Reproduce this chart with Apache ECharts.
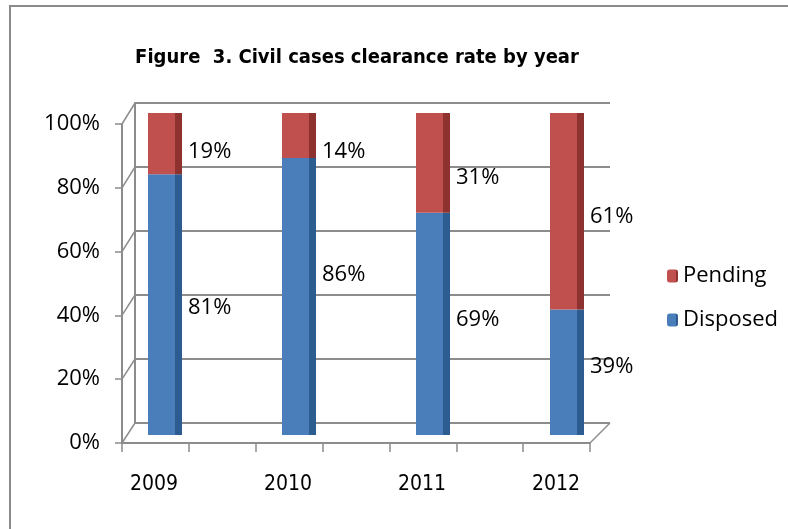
<!DOCTYPE html>
<html>
<head>
<meta charset="utf-8">
<script src="https://cdn.jsdelivr.net/npm/echarts@6/dist/echarts.min.js"></script>
<style>
  html, body { margin: 0; padding: 0; background: #fff; }
  #chart { width: 788px; height: 529px; }
</style>
</head>
<body>
<div id="chart"></div>
<script>
var years = ['2009', '2010', '2011', '2012'];
var disposed = [81, 86, 69, 39];
var pending = [19, 14, 31, 61];
var yTicks = [0, 20, 40, 60, 80, 100];

// vertical nudges of the value labels, as placed in the original
var disposedShift = [3, -22, -4, -5];
var pendingShift = [8, 16, 15, 6];

var font = "'Open Sans'";
var narrow = "'Liberation Sans Narrow', 'Arial Narrow', 'DejaVu Sans Condensed', sans-serif";
var gridColor = '#8c8c8c';

function face(light, dark) {
    return {
        type: 'linear', x: 0, y: 0, x2: 1, y2: 0,
        colorStops: [
            {offset: 0, color: light},
            {offset: 0.79, color: light},
            {offset: 0.79, color: dark},
            {offset: 1, color: dark}
        ]
    };
}

function withShift(vals, shift) {
    return vals.map(function (v, i) {
        return {value: v, label: {offset: [0, shift[i]]}};
    });
}

var labelStyle = {
    show: true,
    position: 'right',
    distance: 6,
    formatter: '{c}%',
    color: '#000',
    fontFamily: font,
    fontSize: 22
};

var option = {
    backgroundColor: '#fff',
    animation: false,
    title: {
        text: 'Figure  3. Civil cases clearance rate by year',
        left: 352,
        textAlign: 'center',
        top: 43,
        textStyle: {
            fontFamily: narrow,
            fontWeight: 'bold',
            fontSize: 20,
            color: '#000'
        }
    },
    legend: {
        orient: 'vertical',
        left: 662,
        top: 260,
        itemGap: 22,
        itemWidth: 11,
        itemHeight: 13,
        data: ['Pending', 'Disposed'],
        textStyle: {fontFamily: font, fontSize: 22, color: '#000'}
    },
    grid: [
        // front axis
        {left: 122, right: 198, top: 124, bottom: 86},
        // back wall
        {left: 135, right: 178, top: 103, bottom: 106},
        // bars
        {left: 98, right: 154, top: 113, bottom: 94}
    ],
    xAxis: [
        {
            gridIndex: 0, type: 'value', min: 0, max: 7, interval: 1,
            axisLine: {show: true, lineStyle: {color: gridColor, width: 2}},
            axisTick: {show: true, length: 9, lineStyle: {color: gridColor, width: 1.5}},
            axisLabel: {show: false},
            splitLine: {show: false}
        },
        {
            gridIndex: 1, type: 'value', min: 0, max: 1,
            axisLine: {show: false}, axisTick: {show: false},
            axisLabel: {show: false}, splitLine: {show: false}
        },
        {
            gridIndex: 2, type: 'category', data: years,
            axisLine: {show: false}, axisTick: {show: false},
            axisLabel: {
                margin: 39, color: '#000', fontFamily: narrow, fontSize: 21,
                padding: [0, 22, 0, 0]
            }
        }
    ],
    yAxis: [
        {
            gridIndex: 0, type: 'value', min: 0, max: 100, interval: 20,
            axisLine: {show: true, lineStyle: {color: gridColor, width: 2}},
            axisTick: {show: true, length: 7, lineStyle: {color: gridColor, width: 1.5}},
            axisLabel: {
                margin: 22, formatter: '{value}%', color: '#000',
                fontFamily: font, fontSize: 22
            },
            splitLine: {show: false}
        },
        {
            gridIndex: 1, type: 'value', min: 0, max: 100, interval: 20,
            axisLine: {show: true, lineStyle: {color: gridColor, width: 2}},
            axisTick: {show: false}, axisLabel: {show: false},
            splitLine: {show: true, lineStyle: {color: gridColor, width: 2}}
        },
        {
            gridIndex: 2, type: 'value', min: 0, max: 100, show: false
        }
    ],
    series: [
        {
            name: 'Disposed',
            type: 'bar',
            stack: 'rate',
            xAxisIndex: 2,
            yAxisIndex: 2,
            barWidth: 34,
            data: withShift(disposed, disposedShift),
            itemStyle: {color: face('#4a7ebb', '#2d5c90')},
            label: labelStyle
        },
        {
            name: 'Pending',
            type: 'bar',
            stack: 'rate',
            xAxisIndex: 2,
            yAxisIndex: 2,
            barWidth: 34,
            data: withShift(pending, pendingShift),
            itemStyle: {color: face('#c0504d', '#8e3230')},
            label: labelStyle
        }
    ]
};

var myChart = echarts.init(document.getElementById('chart'));
myChart.setOption(option);

// side wall / floor edges joining the front axis to the back wall
var xf0 = myChart.convertToPixel({xAxisIndex: 0}, 0);
var xf1 = myChart.convertToPixel({xAxisIndex: 0}, 7);
var xb0 = myChart.convertToPixel({xAxisIndex: 1}, 0);
var xb1 = myChart.convertToPixel({xAxisIndex: 1}, 1);
var edges = yTicks.map(function (v) {
    return {
        type: 'line',
        shape: {
            x1: xf0, y1: myChart.convertToPixel({yAxisIndex: 0}, v),
            x2: xb0, y2: myChart.convertToPixel({yAxisIndex: 1}, v)
        },
        style: {stroke: gridColor, lineWidth: 1.5},
        silent: true
    };
});
edges.push({
    type: 'line',
    shape: {
        x1: xf1, y1: myChart.convertToPixel({yAxisIndex: 0}, 0),
        x2: xb1, y2: myChart.convertToPixel({yAxisIndex: 1}, 0)
    },
    style: {stroke: gridColor, lineWidth: 1.5},
    silent: true
});
// outer frame of the figure
edges.push({
    type: 'rect',
    shape: {x: 10, y: 6, width: 790, height: 540},
    style: {fill: 'none', stroke: '#8a8a8a', lineWidth: 2},
    silent: true
});
myChart.setOption({graphic: edges});
</script>
</body>
</html>
